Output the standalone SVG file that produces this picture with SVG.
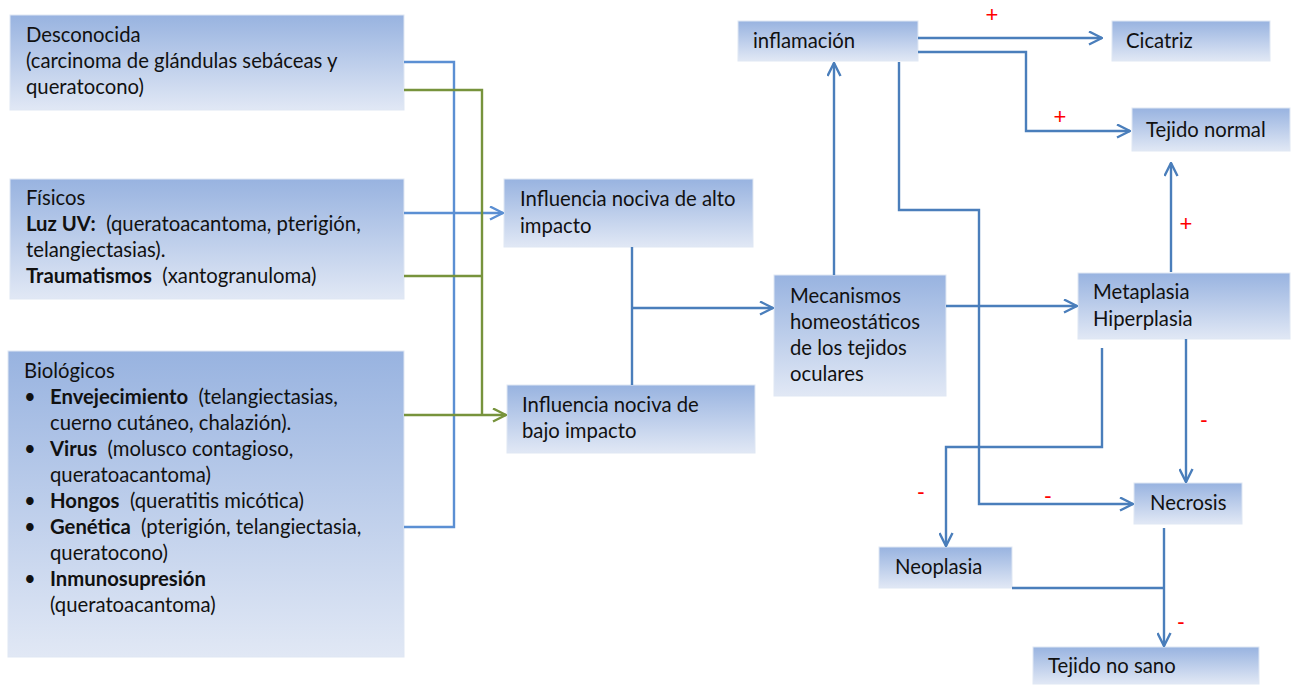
<svg xmlns="http://www.w3.org/2000/svg" width="1298" height="685" viewBox="0 0 1298 685">
<style>
.box{fill:url(#g);stroke:#dfe7f3;stroke-width:1}
.t{font-family:Lato,"Liberation Sans",sans-serif;font-size:20.3px;fill:#111;white-space:pre}
.b{font-weight:bold}
.c{fill:none;stroke:#4a7ebb;stroke-width:2.4}
.cb{fill:none;stroke:#5b8fd3;stroke-width:2.4}
.cg{fill:none;stroke:#77933c;stroke-width:2.4}
.s{font-family:"Liberation Sans",sans-serif;font-size:22px;fill:#ff0000}
</style>
<defs>
<linearGradient id="g" x1="0" y1="0" x2="0" y2="1">
<stop offset="0" stop-color="#98b3e0"/>
<stop offset="1" stop-color="#e1e8f5"/>
</linearGradient>
<marker id="ab" viewBox="0 0 15 15" refX="14" refY="7.5" markerWidth="15" markerHeight="15" markerUnits="userSpaceOnUse" orient="auto">
<path d="M1,1 L14,7.5 L1,14" fill="none" stroke="#4a7ebb" stroke-width="2.4"/>
</marker>
<marker id="ab2" viewBox="0 0 15 15" refX="14" refY="7.5" markerWidth="15" markerHeight="15" markerUnits="userSpaceOnUse" orient="auto">
<path d="M1,1 L14,7.5 L1,14" fill="none" stroke="#5b8fd3" stroke-width="2.4"/>
</marker>
<marker id="ag" viewBox="0 0 15 15" refX="14" refY="7.5" markerWidth="15" markerHeight="15" markerUnits="userSpaceOnUse" orient="auto">
<path d="M1,1 L14,7.5 L1,14" fill="none" stroke="#77933c" stroke-width="2.4"/>
</marker>
</defs>
<rect width="1298" height="685" fill="#ffffff"/>

<g id="desconocida">
<rect class="box" x="10" y="15" width="394" height="95"/>
<text class="t" x="26" y="42">Desconocida</text>
<text class="t" x="26" y="68">(carcinoma de glándulas sebáceas y</text>
<text class="t" x="26" y="94">queratocono)</text>
</g>
<g id="fisicos">
<rect class="box" x="10" y="179" width="394" height="120"/>
<text class="t" x="26" y="205">Físicos</text>
<text class="t" x="26" y="231"><tspan class="b">Luz UV:</tspan>  (queratoacantoma, pterigión,</text>
<text class="t" x="26" y="257">telangiectasias).</text>
<text class="t" x="26" y="283"><tspan class="b">Traumatismos</tspan>  (xantogranuloma)</text>
</g>
<g id="biologicos">
<rect class="box" x="8" y="351" width="396" height="306"/>
<text class="t" x="24" y="378">Biológicos</text>
<text class="t" x="24" y="404">•</text>
<text class="t" x="50" y="404"><tspan class="b">Envejecimiento</tspan>  (telangiectasias,</text>
<text class="t" x="50" y="430">cuerno cutáneo, chalazión).</text>
<text class="t" x="24" y="456">•</text>
<text class="t" x="50" y="456"><tspan class="b">Virus</tspan>  (molusco contagioso,</text>
<text class="t" x="50" y="482">queratoacantoma)</text>
<text class="t" x="24" y="508">•</text>
<text class="t" x="50" y="508"><tspan class="b">Hongos</tspan>  (queratitis micótica)</text>
<text class="t" x="24" y="534">•</text>
<text class="t" x="50" y="534"><tspan class="b">Genética</tspan>  (pterigión, telangiectasia,</text>
<text class="t" x="50" y="560">queratocono)</text>
<text class="t" x="24" y="586">•</text>
<text class="t" x="50" y="586"><tspan class="b">Inmunosupresión</tspan></text>
<text class="t" x="50" y="612">(queratoacantoma)</text>
</g>
<g id="alto">
<rect class="box" x="504" y="179" width="249" height="68"/>
<text class="t" x="520" y="206">Influencia nociva de alto</text>
<text class="t" x="520" y="233">impacto</text>
</g>
<g id="bajo">
<rect class="box" x="507" y="385" width="248" height="68"/>
<text class="t" x="522" y="412">Influencia nociva de</text>
<text class="t" x="522" y="438">bajo impacto</text>
</g>
<g id="mecanismos">
<rect class="box" x="774" y="275" width="172" height="121"/>
<text class="t" x="790" y="303">Mecanismos</text>
<text class="t" x="790" y="329">homeostáticos</text>
<text class="t" x="790" y="355">de los tejidos</text>
<text class="t" x="790" y="381">oculares</text>
</g>
<g id="inflamacion">
<rect class="box" x="738" y="21" width="180" height="40"/>
<text class="t" x="753" y="48">inflamación</text>
</g>
<g id="cicatriz">
<rect class="box" x="1112" y="21" width="158" height="40"/>
<text class="t" x="1126" y="48">Cicatriz</text>
</g>
<g id="tejido-normal">
<rect class="box" x="1132" y="108" width="158" height="43"/>
<text class="t" x="1146" y="137">Tejido normal</text>
</g>
<g id="metaplasia">
<rect class="box" x="1078" y="273" width="212" height="66"/>
<text class="t" x="1093" y="299">Metaplasia</text>
<text class="t" x="1093" y="326">Hiperplasia</text>
</g>
<g id="necrosis">
<rect class="box" x="1134" y="483" width="108" height="41"/>
<text class="t" x="1150" y="510">Necrosis</text>
</g>
<g id="neoplasia">
<rect class="box" x="879" y="547" width="133" height="41"/>
<text class="t" x="895" y="574">Neoplasia</text>
</g>
<g id="tejido-no-sano">
<rect class="box" x="1033" y="647" width="226" height="37"/>
<text class="t" x="1048" y="673">Tejido no sano</text>
</g>

<g id="connectors">
<path class="cb" d="M404,62 H454 V527 H404"/>
<path class="cb" d="M404,213 H503" marker-end="url(#ab2)"/>
<path class="cg" d="M404,90 H482 V415"/>
<path class="cg" d="M404,276 H482"/>
<path class="cg" d="M404,415 H506" marker-end="url(#ag)"/>
<path class="c" d="M632,247 V385"/>
<path class="c" d="M632,308 H773" marker-end="url(#ab)"/>
<path class="c" d="M834,275 V63" marker-end="url(#ab)"/>
<path class="c" d="M918,38 H1102" marker-end="url(#ab)"/>
<path class="c" d="M918,52 H1026 V131 H1130" marker-end="url(#ab)"/>
<path class="c" d="M899,62 V210 H979 V504 H1133" marker-end="url(#ab)"/>
<path class="c" d="M946,306 H1077" marker-end="url(#ab)"/>
<path class="c" d="M1171,272 V163" marker-end="url(#ab)"/>
<path class="c" d="M1186,339 V482" marker-end="url(#ab)"/>
<path class="c" d="M1102,348 V447 H946 V546" marker-end="url(#ab)"/>
<path class="c" d="M1164,528 V646" marker-end="url(#ab)"/>
<path class="c" d="M1012,588 H1164"/>
</g>
<g id="signs">
<text class="s" x="992" y="22" text-anchor="middle">+</text>
<text class="s" x="1060" y="124" text-anchor="middle">+</text>
<text class="s" x="1186" y="231" text-anchor="middle">+</text>
<text class="s" x="1204" y="427" text-anchor="middle">-</text>
<text class="s" x="921" y="499" text-anchor="middle">-</text>
<text class="s" x="1048" y="503" text-anchor="middle">-</text>
<text class="s" x="1181" y="629" text-anchor="middle">-</text>
</g>
</svg>
